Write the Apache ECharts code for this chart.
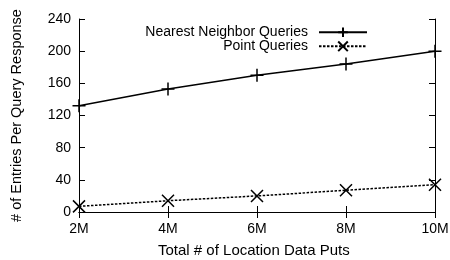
<!DOCTYPE html>
<html>
<head>
<meta charset="utf-8">
<script src="https://cdn.jsdelivr.net/npm/echarts@6/dist/echarts.min.js"></script>
<style>
  html, body { margin: 0; padding: 0; background: #fff; }
  #chart { width: 450px; height: 260px; }
</style>
</head>
<body>
<div id="chart"></div>
<script>
// data
const puts = [2, 4, 6, 8, 10];
const nearestNeighbor = [132, 153, 170, 184, 200];
const pointQueries = [7, 14, 20, 27, 34];
const xTitle = 'Total # of Location Data Puts';
const yTitle = '# of Entries Per Query Response';

const font = 'Liberation Sans, Arial, sans-serif';
const plus = 'path://M0,5L10,5M5,0L5,10';
const cross = 'path://M0,0L10,10M10,0L0,10';

const pairs = (ys) => puts.map((x, i) => [x, ys[i]]);

const axisBase = {
  axisLine: { show: true, lineStyle: { color: '#000', width: 1 } },
  axisTick: { show: true, inside: true, length: 6, lineStyle: { color: '#000' } },
  splitLine: { show: false }
};

const legendBase = {
  right: 82, align: 'right',
  itemWidth: 48, itemHeight: 12, itemGap: 0,
  padding: 0,
  textStyle: { fontSize: 14, color: '#000', fontFamily: font, padding: [0, 6, 0, 0] }
};

const option = {
  animation: false,
  backgroundColor: '#fff',
  textStyle: { fontFamily: font },
  grid: { left: 79, right: 15, top: 19, bottom: 48, containLabel: false, outerBoundsMode: 'none' },
  legend: [
    Object.assign({}, legendBase, { data: ['Nearest Neighbor Queries'], top: 25 }),
    Object.assign({}, legendBase, { data: ['Point Queries'], top: 39 })
  ],
  // x title placed as text so it is not pushed below the tick labels
  graphic: [{
    type: 'text',
    left: 158, top: 243,
    style: { text: xTitle, font: '15px ' + font, fill: '#000' }
  }],
  xAxis: [
    Object.assign({}, axisBase, {
      type: 'value', min: 2, max: 10, interval: 2,
      axisLabel: { formatter: (v) => v + 'M', fontSize: 14, color: '#000', margin: 10 }
    }),
    Object.assign({}, axisBase, {
      type: 'value', min: 2, max: 10, interval: 2, position: 'top',
      axisLabel: { show: false }
    })
  ],
  yAxis: [
    Object.assign({}, axisBase, {
      type: 'value', min: 0, max: 240, interval: 40,
      name: yTitle,
      nameLocation: 'middle', nameGap: 55,
      nameTextStyle: { fontSize: 14.5, color: '#000' },
      axisLabel: { fontSize: 14, color: '#000', margin: 8 }
    }),
    Object.assign({}, axisBase, {
      type: 'value', min: 0, max: 240, interval: 40, position: 'right',
      axisLabel: { show: false }
    })
  ],
  series: [
    {
      name: 'Nearest Neighbor Queries',
      type: 'line',
      data: pairs(nearestNeighbor),
      symbol: plus, symbolSize: 13,
      lineStyle: { color: '#000', width: 1.5 },
      itemStyle: { color: 'none', borderColor: '#000', borderWidth: 1.5 }
    },
    {
      name: 'Point Queries',
      type: 'line',
      data: pairs(pointQueries),
      symbol: cross, symbolSize: 12,
      lineStyle: { color: '#000', width: 1.5, type: [2.5, 1.5] },
      itemStyle: { color: 'none', borderColor: '#000', borderWidth: 1.5 }
    }
  ]
};

echarts.init(document.getElementById('chart')).setOption(option);
</script>
</body>
</html>
